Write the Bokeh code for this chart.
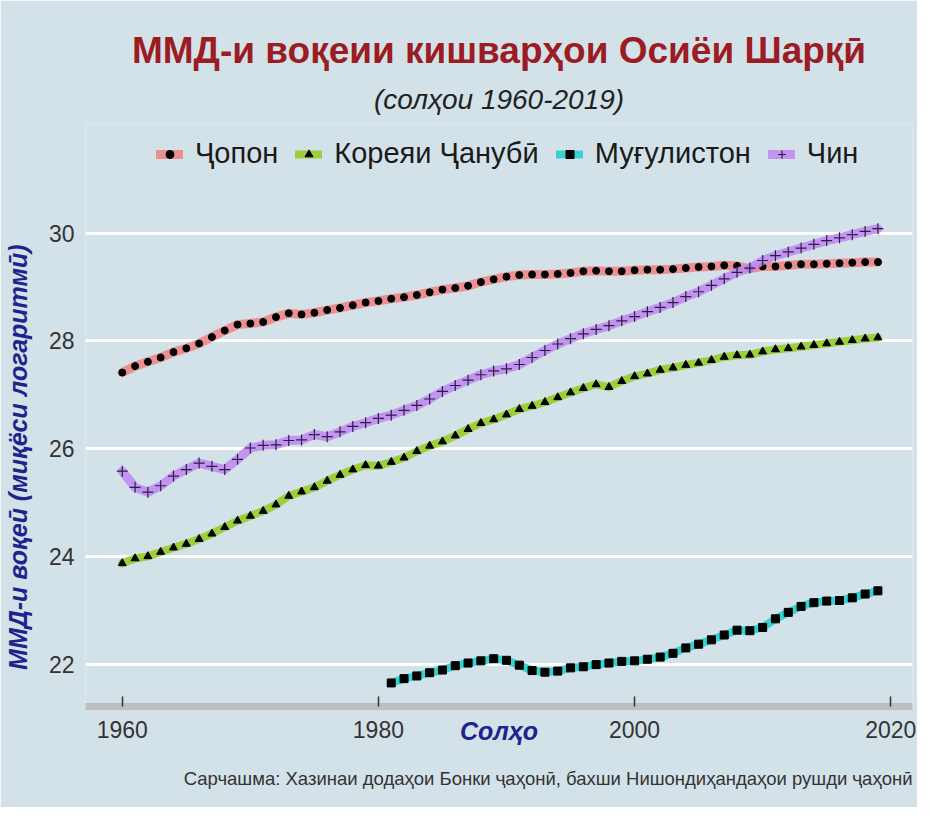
from bokeh.plotting import figure
from bokeh.models import Range1d, Legend, LegendItem, FixedTicker, Title
from bokeh.embed import file_html
from bokeh.resources import INLINE

# ---------------- data (natural log of GDP) ----------------
years = list(range(1960, 2020))
years_mng = list(range(1981, 2020))

japan = [27.41, 27.53, 27.61, 27.69, 27.79, 27.86, 27.95, 28.07, 28.19, 28.30,
         28.32, 28.35, 28.44, 28.51, 28.49, 28.52, 28.57, 28.61, 28.66, 28.71,
         28.74, 28.78, 28.81, 28.85, 28.90, 28.95, 28.98, 29.02, 29.09, 29.14,
         29.19, 29.22, 29.23, 29.23, 29.24, 29.26, 29.29, 29.30, 29.29, 29.29,
         29.31, 29.32, 29.32, 29.33, 29.35, 29.37, 29.38, 29.40, 29.39, 29.34,
         29.38, 29.38, 29.40, 29.42, 29.42, 29.43, 29.44, 29.45, 29.46, 29.46]

korea = [23.87, 23.96, 24.00, 24.08, 24.16, 24.23, 24.32, 24.42, 24.54, 24.66,
         24.75, 24.84, 24.96, 25.12, 25.20, 25.28, 25.40, 25.51, 25.61, 25.69,
         25.68, 25.75, 25.83, 25.95, 26.05, 26.13, 26.24, 26.36, 26.47, 26.54,
         26.63, 26.73, 26.79, 26.86, 26.95, 27.04, 27.12, 27.19, 27.14, 27.25,
         27.34, 27.39, 27.46, 27.50, 27.55, 27.59, 27.64, 27.70, 27.73, 27.74,
         27.80, 27.84, 27.86, 27.89, 27.92, 27.95, 27.98, 28.01, 28.04, 28.06]

mongolia = [21.65, 21.73, 21.78, 21.84, 21.89, 21.97, 22.02, 22.06, 22.10,
            22.07, 21.98, 21.88, 21.85, 21.87, 21.93, 21.95, 21.99, 22.02, 22.05,
            22.06, 22.09, 22.13, 22.20, 22.30, 22.37, 22.45, 22.54, 22.63, 22.62,
            22.68, 22.84, 22.96, 23.07, 23.14, 23.17, 23.18, 23.23, 23.30, 23.36]

china = [25.58, 25.28, 25.19, 25.31, 25.49, 25.61, 25.73, 25.67, 25.61, 25.80,
         26.01, 26.06, 26.07, 26.15, 26.16, 26.26, 26.22, 26.31, 26.41, 26.48,
         26.56, 26.62, 26.71, 26.80, 26.92, 27.06, 27.17, 27.27, 27.37, 27.44,
         27.48, 27.56, 27.69, 27.82, 27.94, 28.04, 28.13, 28.21, 28.28, 28.37,
         28.45, 28.54, 28.62, 28.71, 28.82, 28.91, 29.03, 29.15, 29.27, 29.35,
         29.49, 29.58, 29.65, 29.72, 29.79, 29.86, 29.91, 29.97, 30.03, 30.08]

names = ["Ҷопон", "Кореяи Ҷанубӣ", "Муғулистон", "Чин"]
x_ticks = [1960, 1980, 2000, 2020]
y_ticks = [22, 24, 26, 28, 30]

title_text = "ММД-и воқеии кишварҳои Осиёи Шарқӣ"
subtitle_text = "(солҳои 1960-2019)"
x_label = "Солҳо"
y_label = "ММД-и воқеӣ (миқёси логаритмӣ)"
caption_text = "Сарчашма: Хазинаи додаҳои Бонки ҷаҳонӣ, бахши Нишондиҳандаҳои рушди ҷаҳонӣ"

# ---------------- style ----------------
BG = "#d3e2e8"
FONT = "Liberation Sans"
NAVY = "#22228f"
DARKRED = "#9b1c23"
TXT = "#333333"
NBSP = "\u00a0"

p = figure(width=917, height=807, output_backend="svg", toolbar_location=None,
           x_range=Range1d(1957.13, 2021.7), y_range=Range1d(21.213, 32.014),
           min_border_left=80, min_border_right=5, min_border_top=124,
           min_border_bottom=93)
p.background_fill_color = BG
p.border_fill_color = BG
p.outline_line_color = None

# titles (first added = closest to the frame)
p.add_layout(Title(text=subtitle_text, align="center", text_font=FONT,
                   text_font_size="28px", text_font_style="italic",
                   text_color="#222222", standoff=19), "above")
p.add_layout(Title(text=title_text, align="center", text_font=FONT,
                   text_font_size="37px", text_font_style="bold",
                   text_color=DARKRED, standoff=3), "above")

# grid
p.xgrid.visible = False
p.ygrid.grid_line_color = "white"
p.ygrid.grid_line_width = 3

# x axis
xa = p.xaxis[0]
xa.ticker = FixedTicker(ticks=x_ticks)
xa.axis_line_color = "#bebebe"
xa.axis_line_width = 7
xa.major_tick_in = 10
xa.major_tick_out = 0
xa.major_tick_line_color = "#333333"
xa.major_tick_line_width = 1.5
xa.minor_tick_line_color = None
xa.major_label_text_font = FONT
xa.major_label_text_font_size = "23px"
xa.major_label_text_color = TXT
xa.major_label_standoff = 14
xa.axis_label = x_label
xa.axis_label_text_font = FONT
xa.axis_label_text_font_size = "25px"
xa.axis_label_text_font_style = "bold italic"
xa.axis_label_text_color = NAVY
xa.axis_label_standoff = -24

# y axis (label padded with no-break spaces so it centres on the data area)
ya = p.yaxis[0]
ya.ticker = FixedTicker(ticks=y_ticks)
ya.axis_line_color = None
ya.major_tick_line_color = None
ya.minor_tick_line_color = None
ya.major_tick_in = 0
ya.major_tick_out = 0
ya.major_label_text_font = FONT
ya.major_label_text_font_size = "23px"
ya.major_label_text_color = TXT
ya.major_label_standoff = 11
ya.axis_label = y_label + NBSP * 12
ya.axis_label_text_font = FONT
ya.axis_label_text_font_size = "25px"
ya.axis_label_text_font_style = "bold italic"
ya.axis_label_text_color = NAVY
ya.axis_label_standoff = 14

# caption below
p.add_layout(Title(text=caption_text, align="right", text_font=FONT,
                   text_font_size="18.5px", text_font_style="normal",
                   text_color=TXT, standoff=37), "below")

# ---------------- series ----------------
items = []

l1 = p.line(years, japan, line_color="#f08080", line_width=9, line_alpha=0.85,
            line_join="round", line_cap="round")
s1 = p.scatter(years, japan, marker="circle", size=7, fill_color="black",
               line_color="black")
items.append(LegendItem(label=names[0], renderers=[l1, s1]))

l2 = p.line(years, korea, line_color="#9acd32", line_width=8, line_alpha=0.95,
            line_join="round", line_cap="round")
s2 = p.scatter(years, korea, marker="triangle", size=8, fill_color="black",
               line_color="black")
items.append(LegendItem(label=names[1], renderers=[l2, s2]))

l3 = p.line(years_mng, mongolia, line_color="#2ed0d0", line_width=8,
            line_alpha=0.95, line_join="round", line_cap="round")
s3 = p.scatter(years_mng, mongolia, marker="square", size=8, fill_color="black",
               line_color="black")
items.append(LegendItem(label=names[2], renderers=[l3, s3]))

l4 = p.line(years, china, line_color="#c08cf0", line_width=9, line_alpha=0.9,
            line_join="round", line_cap="round")
s4 = p.scatter(years, china, marker="cross", size=11, line_color="#2a1d48",
               line_width=1.2)
items.append(LegendItem(label=names[3], renderers=[l4, s4]))

legend = Legend(items=items, orientation="horizontal", location=(71, 536),
                background_fill_alpha=0, border_line_color=None,
                padding=0, margin=0, spacing=17, label_standoff=12,
                glyph_width=27, glyph_height=20,
                label_text_font=FONT, label_text_font_size="29px",
                label_text_color="#1a1a1a")
p.add_layout(legend, "center")

open("out.html", "w").write(file_html(p, INLINE))
